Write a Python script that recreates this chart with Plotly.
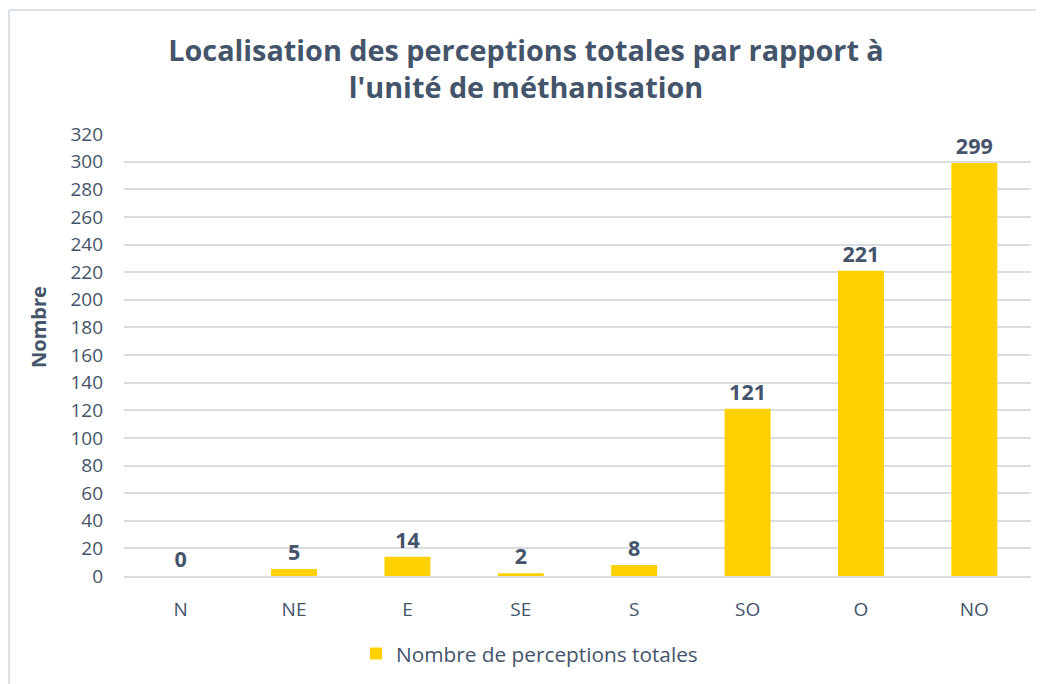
import plotly.graph_objects as go

categories = ["N", "NE", "E", "SE", "S", "SO", "O", "NO"]
values = [0, 5, 14, 2, 8, 121, 221, 299]
series_name = "Nombre de perceptions totales"
tick_vals = list(range(0, 321, 20))

TXT = "#44546A"
FONT = "Open Sans"

fig = go.Figure()
fig.add_trace(go.Bar(
    x=categories, y=values, name=series_name,
    marker=dict(color="#FFD100", line=dict(width=0)),
    width=0.405,
    text=[str(v) for v in values], textposition="outside",
    textfont=dict(family=FONT, size=21.5, color=TXT, weight="bold"),
    cliponaxis=False,
))

# page has 8px body margin -> work in figure coords
W, H = 1036, 676
L, R, T, B = 116, 13, 126, 108
pw, ph = W - L - R, H - T - B

fig.update_layout(
    width=W, height=H,
    margin=dict(l=L, r=R, t=T, b=B, autoexpand=False),
    paper_bgcolor="white", plot_bgcolor="white",
    font=dict(family=FONT, color=TXT),
    title=dict(
        text="Localisation des perceptions totales par rapport à<br>l'unité de méthanisation",
        x=0.5, xanchor="center", xref="container",
        y=1 - 53 / H, yanchor="middle",
        font=dict(family=FONT, size=28.8, color=TXT, weight="bold"),
    ),
    showlegend=True,
    legend=dict(
        orientation="h", x=(348 - L) / pw, xanchor="left", xref="paper",
        y=-(646 - 568) / ph, yanchor="middle",
        font=dict(family=FONT, size=20.8, color=TXT),
        itemwidth=30,
    ),
    annotations=[dict(
        text="Nombre", xref="paper", yref="paper",
        x=(30 - L) / pw, y=(568 - 319) / ph,
        xanchor="center", yanchor="middle", textangle=-90, showarrow=False,
        font=dict(family=FONT, size=20, color=TXT, weight="bold"),
    )],
)
fig.update_yaxes(
    range=[0, 320], tickvals=tick_vals,
    showgrid=True, gridcolor="#D9DDE3", gridwidth=1.5,
    zeroline=False, showline=False,
    tickfont=dict(family=FONT, size=19, color=TXT),
    ticks="", ticklabelstandoff=20,
)
fig.update_xaxes(
    showline=True, linecolor="#D9DDE3", linewidth=1.5,
    showgrid=False, ticks="",
    tickfont=dict(family=FONT, size=19, color=TXT),
    ticklabelstandoff=15,
)

# outer chart border (left and top)
x0 = (1 - L) / pw
ytop = (H - B - 2) / ph
fig.add_shape(type="line", xref="paper", yref="paper",
              x0=x0, x1=x0, y0=ytop, y1=-(B + 5) / ph,
              line=dict(color="#DCE1E8", width=2))
fig.add_shape(type="line", xref="paper", yref="paper",
              x0=x0, x1=(W + 5 - L) / pw, y0=ytop, y1=ytop,
              line=dict(color="#DCE1E8", width=2))

fig.write_html("out.html")
